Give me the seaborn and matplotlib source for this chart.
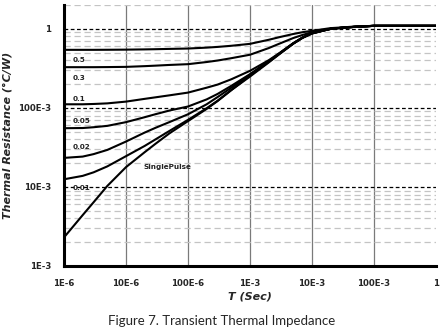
import matplotlib
matplotlib.use("Agg")
import matplotlib.pyplot as plt
import matplotlib.ticker as mticker
import pandas as pd
import seaborn as sns

# Pulse width (s)
pulse_time = [1e-6, 2e-6, 3e-6, 5e-6, 1e-5, 2e-5, 3e-5, 5e-5, 1e-4, 2e-4, 3e-4, 5e-4,
              1e-3, 2e-3, 3e-3, 5e-3, 7e-3, 1e-2, 2e-2, 3e-2, 5e-2, 1e-1, 1.0]

# Transient thermal resistance (°C/W) for each duty cycle
duty_05 = [0.542, 0.542, 0.542, 0.543, 0.545, 0.549, 0.552, 0.557, 0.563, 0.578, 0.590, 0.610,
           0.645, 0.726, 0.785, 0.860, 0.905, 0.943, 1.02, 1.04, 1.07, 1.09, 1.09]
duty_03 = [0.327, 0.327, 0.327, 0.328, 0.330, 0.337, 0.342, 0.349, 0.357, 0.380, 0.397, 0.425,
           0.470, 0.570, 0.650, 0.765, 0.835, 0.905, 1.00, 1.03, 1.06, 1.09, 1.09]
duty_01 = [0.111, 0.111, 0.112, 0.114, 0.120, 0.130, 0.136, 0.144, 0.156, 0.180, 0.197, 0.230,
           0.294, 0.400, 0.495, 0.660, 0.775, 0.885, 1.00, 1.03, 1.06, 1.09, 1.09]
duty_005 = [0.0553, 0.0556, 0.0569, 0.0592, 0.066, 0.0762, 0.0832, 0.0925, 0.104, 0.128, 0.150, 0.190,
            0.267, 0.390, 0.490, 0.655, 0.772, 0.880, 1.00, 1.03, 1.06, 1.09, 1.09]
duty_002 = [0.0233, 0.0242, 0.026, 0.0294, 0.0375, 0.0487, 0.056, 0.066, 0.083, 0.111, 0.137, 0.180,
            0.262, 0.386, 0.487, 0.653, 0.770, 0.878, 1.00, 1.03, 1.06, 1.09, 1.09]
duty_001 = [0.0125, 0.0138, 0.0153, 0.0182, 0.0245, 0.033, 0.040, 0.051, 0.0705, 0.099, 0.123, 0.168,
            0.256, 0.380, 0.484, 0.651, 0.769, 0.875, 1.00, 1.03, 1.06, 1.09, 1.09]
single_pulse = [0.0023, 0.0044, 0.0064, 0.0103, 0.0178, 0.0275, 0.0352, 0.0475, 0.068, 0.097, 0.122, 0.168,
                0.249, 0.375, 0.480, 0.648, 0.767, 0.870, 1.00, 1.03, 1.06, 1.09, 1.09]

series_names = ["0.5", "0.3", "0.1", "0.05", "0.02", "0.01", "SinglePulse"]
series_values = [duty_05, duty_03, duty_01, duty_005, duty_002, duty_001, single_pulse]

# Curve labels: (text, x, y) in data coordinates
curve_labels = [
    ("0.5", 1.4e-6, 0.405),
    ("0.3", 1.4e-6, 0.24),
    ("0.1", 1.4e-6, 0.13),
    ("0.05", 1.4e-6, 0.068),
    ("0.02", 1.4e-6, 0.032),
    ("0.01", 1.4e-6, 0.0097),
    ("SinglePulse", 1.9e-5, 0.0179),
]

x_ticks = [1e-6, 1e-5, 1e-4, 1e-3, 1e-2, 1e-1, 1.0]
x_tick_labels = ["1E-6", "10E-6", "100E-6", "1E-3", "10E-3", "100E-3", "1"]
y_ticks = [1e-3, 1e-2, 1e-1, 1.0]
y_tick_labels = ["1E-3", "10E-3", "100E-3", "1"]

rows = []
for name, vals in zip(series_names, series_values):
    for t, v in zip(pulse_time, vals):
        rows.append({"T": t, "Zth": v, "series": name})
df = pd.DataFrame(rows)

sns.set_style("white")
plt.rcParams["font.family"] = ["DejaVu Sans"]

fig = plt.figure(figsize=(4.43, 3.32), dpi=100)
ax = fig.add_axes([64 / 443, 1 - 266 / 332, (436 - 64) / 443, (266 - 5) / 332])

ax.set_xscale("log")
ax.set_yscale("log")
ax.set_xlim(1e-6, 1.0)
ax.set_ylim(1e-3, 2.0)

# grid: solid gray decades on x, dashed on y
for xv in x_ticks[1:-1]:
    ax.axvline(xv, color="#7a7a7a", lw=0.9, zorder=1)
for dec in [1e-3, 1e-2, 1e-1, 1.0]:
    for m in range(2, 10):
        yv = dec * m
        if yv <= 2.0:
            ax.axhline(yv, color="#c4c4c4", lw=0.9, dashes=(5, 3), zorder=1)
for yv in [1e-2, 1e-1, 1.0]:
    ax.axhline(yv, color="black", lw=0.9, dashes=(3, 2), zorder=1.5)

sns.lineplot(data=df, x="T", y="Zth", units="series", estimator=None,
             color="black", lw=1.5, ax=ax, legend=False, zorder=3)

for text, xv, yv in curve_labels:
    ax.text(xv, yv, text, fontsize=5.2, fontweight="bold", ha="left", va="center",
            color="#222222", zorder=4)

ax.xaxis.set_major_locator(mticker.FixedLocator(x_ticks))
ax.xaxis.set_major_formatter(mticker.FixedFormatter(x_tick_labels))
ax.yaxis.set_major_locator(mticker.FixedLocator(y_ticks))
ax.yaxis.set_major_formatter(mticker.FixedFormatter(y_tick_labels))
ax.xaxis.set_minor_locator(mticker.NullLocator())
ax.yaxis.set_minor_locator(mticker.NullLocator())

ax.tick_params(axis="both", which="major", direction="out", length=3, width=1.5,
               color="black", labelsize=6.2, pad=6)
for lab in ax.get_xticklabels() + ax.get_yticklabels():
    lab.set_fontweight("bold")

for side in ["top", "right"]:
    ax.spines[side].set_visible(False)
for side in ["left", "bottom"]:
    ax.spines[side].set_linewidth(2.2)
    ax.spines[side].set_color("black")
    ax.spines[side].set_zorder(5)

ax.set_xlabel("T (Sec)", fontsize=8, fontweight="bold", fontstyle="italic", labelpad=3)
ax.set_ylabel("Thermal Resistance (°C/W)", fontsize=8, fontweight="bold",
              fontstyle="italic", labelpad=4)

fig.text(222 / 443, 1 - 321 / 332, "Figure 7. Transient Thermal Impedance",
         fontsize=9.5, ha="center", va="center", family=["Lato", "DejaVu Sans"])

fig.savefig("out.png", dpi=100)
